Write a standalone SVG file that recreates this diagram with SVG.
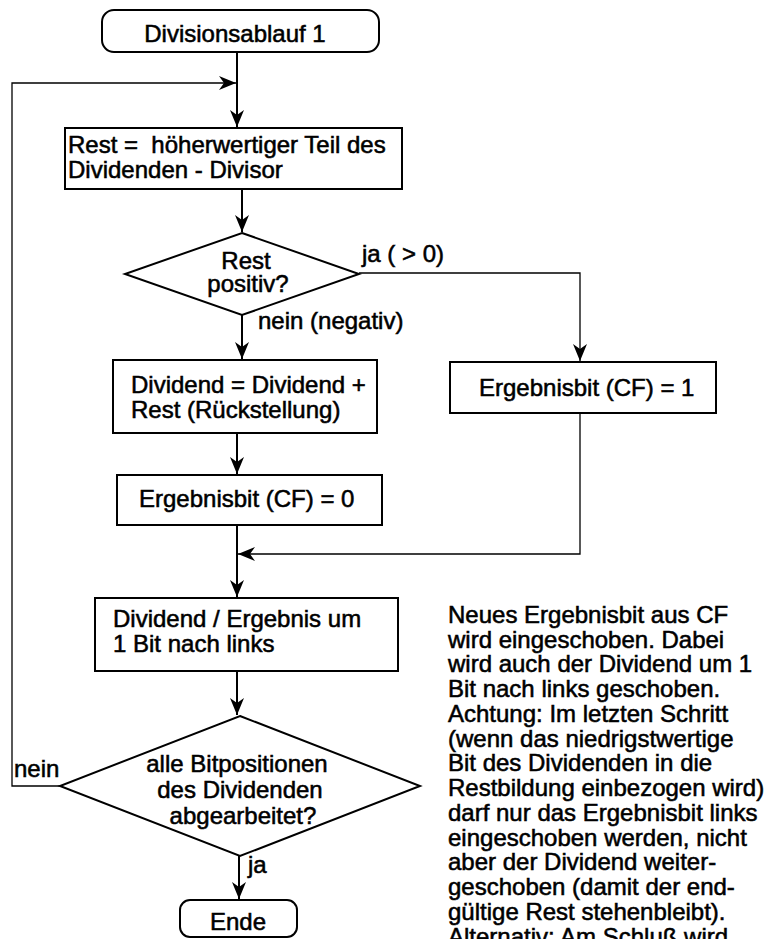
<svg xmlns="http://www.w3.org/2000/svg" width="770" height="939" viewBox="0 0 770 939">
  <style>
    .shape { fill: #ffffff; stroke: #000000; stroke-width: 2; }
    .flow { fill: none; stroke: #000000; stroke-width: 2; }
    .side { fill: none; stroke: #000000; stroke-width: 1.3; }
    text { font-family: "Liberation Sans", Arial, sans-serif; font-size: 24px; fill: #000000; stroke: #000000; stroke-width: 0.55; }
    .c { text-anchor: middle; }
  </style>
  <defs>
    <marker id="arrow" markerUnits="userSpaceOnUse" markerWidth="18" markerHeight="14" refX="17" refY="7" orient="auto">
      <path d="M0,0 L17,7 L0,14 L5,7 z" fill="#000000"/>
    </marker>
  </defs>

  <rect width="770" height="939" fill="#ffffff"/>

  <!-- connectors -->
  <g id="connectors">
    <path class="flow" d="M237,52 V127" marker-end="url(#arrow)"/>
    <path class="side" d="M60,786 H12 V83 H236" marker-end="url(#arrow)"/>
    <path class="flow" d="M242,189 V232" marker-end="url(#arrow)"/>
    <path class="flow" d="M242,315 V359" marker-end="url(#arrow)"/>
    <path class="side" d="M359,273 H580 V361" marker-end="url(#arrow)"/>
    <path class="flow" d="M237,433 V474" marker-end="url(#arrow)"/>
    <path class="flow" d="M237,525 V597" marker-end="url(#arrow)"/>
    <path class="side" d="M580,413 V554 H238" marker-end="url(#arrow)"/>
    <path class="flow" d="M237,671 V715" marker-end="url(#arrow)"/>
    <path class="flow" d="M239,856 V899" marker-end="url(#arrow)"/>
  </g>

  <!-- start terminal -->
  <g id="start">
    <rect class="shape" x="102" y="10" width="277" height="42" rx="12" ry="12"/>
    <text class="c" x="235" y="42">Divisionsablauf 1</text>
  </g>

  <!-- remainder computation -->
  <g id="rest">
    <rect class="shape" x="65" y="128" width="337" height="61"/>
    <text x="68" y="153" xml:space="preserve">Rest =  höherwertiger Teil des</text>
    <text x="68" y="178">Dividenden - Divisor</text>
  </g>

  <!-- decision: remainder positive -->
  <g id="check-rest">
    <polygon class="shape" points="242,233 359,274 242,315 125,274"/>
    <text class="c" x="246" y="269">Rest</text>
    <text class="c" x="248" y="292">positiv?</text>
  </g>
  <text x="362" y="262">ja ( &gt; 0)</text>
  <text x="258" y="329">nein (negativ)</text>

  <!-- restore dividend -->
  <g id="restore">
    <rect class="shape" x="113" y="360" width="264" height="73"/>
    <text x="131" y="393">Dividend = Dividend +</text>
    <text x="131" y="418">Rest (Rückstellung)</text>
  </g>

  <!-- result bit 0 -->
  <g id="bit-zero">
    <rect class="shape" x="117" y="475" width="265" height="50"/>
    <text x="139" y="507">Ergebnisbit (CF) = 0</text>
  </g>

  <!-- result bit 1 -->
  <g id="bit-one">
    <rect class="shape" x="450" y="362" width="266" height="51"/>
    <text x="479" y="396">Ergebnisbit (CF) = 1</text>
  </g>

  <!-- shift left -->
  <g id="shift">
    <rect class="shape" x="95" y="598" width="303" height="73"/>
    <text x="113" y="627">Dividend / Ergebnis um</text>
    <text x="113" y="652">1 Bit nach links</text>
  </g>

  <!-- decision: all bit positions done -->
  <g id="check-done">
    <polygon class="shape" points="240,716 420,786 240,856 60,786"/>
    <text class="c" x="237" y="772">alle Bitpositionen</text>
    <text class="c" x="240" y="798">des Dividenden</text>
    <text class="c" x="243" y="824">abgearbeitet?</text>
  </g>
  <text x="14" y="777">nein</text>
  <text x="248" y="873">ja</text>

  <!-- end terminal -->
  <g id="end">
    <rect class="shape" x="180" y="900" width="117" height="37" rx="10" ry="10"/>
    <text class="c" x="238" y="930">Ende</text>
  </g>

  <!-- explanatory note -->
  <g id="note">
    <text x="448" y="623">Neues Ergebnisbit aus CF</text>
    <text x="448" y="648">wird eingeschoben. Dabei</text>
    <text x="448" y="672">wird auch der Dividend um 1</text>
    <text x="448" y="697">Bit nach links geschoben.</text>
    <text x="448" y="722">Achtung: Im letzten Schritt</text>
    <text x="448" y="747">(wenn das niedrigstwertige</text>
    <text x="448" y="771">Bit des Dividenden in die</text>
    <text x="448" y="796">Restbildung einbezogen wird)</text>
    <text x="448" y="821">darf nur das Ergebnisbit links</text>
    <text x="448" y="846">eingeschoben werden, nicht</text>
    <text x="448" y="870">aber der Dividend weiter-</text>
    <text x="448" y="895">geschoben (damit der end-</text>
    <text x="448" y="920">gültige Rest stehenbleibt).</text>
    <text x="448" y="945">Alternativ: Am Schluß wird</text>
  </g>
</svg>
